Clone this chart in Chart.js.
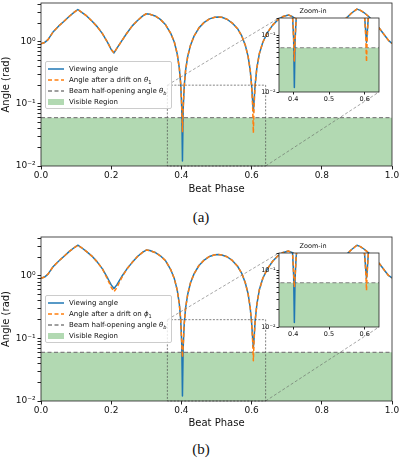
<!DOCTYPE html>
<html>
<head>
<meta charset="utf-8">
<script src="https://cdn.jsdelivr.net/npm/chart.js@4.4.1/dist/chart.umd.min.js"></script>
<style>
body{margin:0;background:#fff;font-family:"DejaVu Sans",sans-serif;}
#wrap{position:relative;width:400px;height:461px;overflow:hidden;background:#fff;}
canvas{position:absolute;}
.cap{position:absolute;left:1px;width:400px;text-align:center;font-family:"Liberation Serif",serif;font-size:15px;line-height:15px;color:#111;}
.leg{position:absolute;left:45px;width:125px;height:45px;border:1px solid #ccc;border-radius:2px;background:rgba(255,255,255,0.8);padding-top:1px;font-size:7px;color:#111;}
.leg .row{height:11px;display:flex;align-items:center;white-space:nowrap;}
.leg svg{margin-left:2px;margin-right:5px;flex:none;}
.leg sub{font-size:5px;vertical-align:-1.5px;line-height:0;}
</style>
</head>
<body>
<div id="wrap">
  <canvas id="mainA" width="400" height="196" style="left:0;top:0"></canvas>
  <canvas id="mainB" width="400" height="196" style="left:0;top:234px"></canvas>
  <div class="leg" id="legA" style="top:61px"></div>
  <div class="leg" id="legB" style="top:295px"></div>
  <canvas id="insetA" width="137" height="104" style="left:247px;top:4px"></canvas>
  <canvas id="insetB" width="137" height="104" style="left:247px;top:239px"></canvas>
  <div class="cap" style="top:210px">(a)</div>
  <div class="cap" style="top:442px">(b)</div>
</div>
<script>
// beat phase samples (shared by both panels)
const phase = [0.000,0.010,0.020,0.035,0.050,0.065,0.080,0.095,0.105,0.115,
  0.130,0.145,0.160,0.175,0.190,0.200,0.208,0.216,0.230,0.245,
  0.260,0.275,0.290,0.300,0.310,0.325,0.340,0.355,0.370,0.380,
  0.388,0.394,0.398,0.401,0.403,0.405,0.408,0.412,0.418,0.426,
  0.436,0.450,0.465,0.480,0.495,0.505,0.515,0.530,0.545,0.560,
  0.572,0.582,0.590,0.596,0.600,0.603,0.605,0.607,0.610,0.615,
  0.622,0.632,0.645,0.660,0.675,0.690,0.705,0.715,0.730,0.745,
  0.760,0.775,0.790,0.800,0.810,0.825,0.840,0.855,0.870,0.885,
  0.900,0.910,0.920,0.935,0.950,0.965,0.980,0.990,1.000];

// panel (a)
const viewA = [0.93,0.97,1.08,1.45,1.78,2.12,2.55,3.00,3.30,3.00,
  2.60,2.15,1.75,1.35,0.97,0.75,0.66,0.78,1.03,1.38,
  1.80,2.20,2.60,2.82,2.76,2.60,2.29,1.87,1.35,0.98,
  0.64,0.38,0.21,0.085,0.012,0.08,0.19,0.35,0.58,0.88,
  1.23,1.67,2.05,2.33,2.47,2.50,2.47,2.30,2.00,1.62,
  1.24,0.88,0.58,0.35,0.20,0.11,0.075,0.11,0.20,0.38,
  0.64,0.98,1.40,1.85,2.25,2.55,2.70,2.55,2.25,1.85,
  1.45,1.08,0.80,0.68,0.76,1.05,1.45,1.90,2.40,2.90,
  3.35,3.20,2.95,2.50,2.05,1.62,1.25,1.05,0.94];
const driftA = [0.93,0.97,1.08,1.45,1.78,2.12,2.55,3.00,3.30,3.00,
  2.60,2.15,1.75,1.35,0.97,0.75,0.66,0.78,1.03,1.38,
  1.80,2.20,2.60,2.82,2.76,2.60,2.29,1.87,1.35,0.98,
  0.64,0.38,0.21,0.09,0.035,0.085,0.19,0.35,0.58,0.88,
  1.23,1.67,2.05,2.33,2.47,2.50,2.47,2.30,2.00,1.62,
  1.24,0.88,0.58,0.35,0.19,0.09,0.034,0.09,0.20,0.38,
  0.64,0.98,1.40,1.85,2.25,2.55,2.70,2.55,2.25,1.85,
  1.45,1.08,0.80,0.68,0.76,1.05,1.45,1.90,2.40,2.90,
  3.35,3.20,2.95,2.50,2.05,1.62,1.25,1.05,0.94];

// panel (b)
const viewB = [0.92,0.96,1.07,1.42,1.72,2.05,2.45,2.85,3.10,2.85,
  2.45,2.08,1.68,1.30,0.92,0.72,0.63,0.72,0.98,1.30,
  1.65,2.05,2.40,2.60,2.55,2.38,2.10,1.75,1.25,0.90,
  0.60,0.36,0.20,0.08,0.012,0.07,0.17,0.31,0.51,0.78,
  1.08,1.47,1.80,2.05,2.18,2.20,2.17,2.03,1.77,1.43,
  1.10,0.78,0.52,0.31,0.18,0.10,0.072,0.10,0.19,0.35,
  0.60,0.92,1.30,1.72,2.10,2.38,2.50,2.38,2.10,1.72,
  1.36,1.02,0.76,0.65,0.71,1.00,1.38,1.80,2.20,2.65,
  3.10,2.95,2.70,2.30,1.92,1.55,1.20,1.02,0.93];
const driftB = [0.92,0.96,1.07,1.42,1.72,2.05,2.45,2.85,3.10,2.85,
  2.45,2.08,1.68,1.30,0.88,0.66,0.56,0.65,0.94,1.30,
  1.65,2.05,2.40,2.60,2.55,2.38,2.10,1.75,1.25,0.90,
  0.60,0.36,0.20,0.085,0.05,0.075,0.17,0.31,0.51,0.78,
  1.08,1.47,1.80,2.05,2.18,2.20,2.17,2.03,1.77,1.43,
  1.10,0.78,0.52,0.31,0.18,0.09,0.044,0.09,0.19,0.35,
  0.60,0.92,1.30,1.72,2.10,2.38,2.50,2.38,2.10,1.72,
  1.36,1.02,0.76,0.65,0.71,1.00,1.38,1.80,2.20,2.65,
  3.10,2.95,2.70,2.30,1.92,1.55,1.20,1.02,0.93];

const beamAngle = 0.06;
const xRange = [0, 1];
const yRange = [0.01, 4.2];
const xTicks = [0, 0.2, 0.4, 0.6, 0.8, 1.0];
const zoomX = [0.36, 0.64];
const zoomY = [0.01, 0.2];
const zoomTicks = [0.4, 0.5, 0.6];

const BLUE = '#1f77b4', ORANGE = '#ff7f0e', GRAY = '#808080', GREEN = 'rgba(0,128,0,0.3)';
Chart.defaults.font.family = "'DejaVu Sans', sans-serif";
Chart.defaults.color = '#111';

const sup = {'-':'\u207b','0':'\u2070','1':'\u00b9','2':'\u00b2','3':'\u00b3'};
function decadeLabel(v){
  const e = Math.log10(v);
  if (Math.abs(e - Math.round(e)) > 1e-6) return '';
  return '10' + String(Math.round(e)).split('').map(c => sup[c]).join('');
}
function logTicks(min, max){
  const t = [];
  for (let e = -3; e <= 1; e++)
    for (let m = 1; m <= 9; m++){
      const v = m * Math.pow(10, e);
      if (v >= min * 0.999 && v <= max * 1.001) t.push({value: v});
    }
  return t;
}

function datasets(view, drift){
  const pts = arr => phase.map((p, i) => ({x: p, y: arr[i]}));
  const flat = [{x: xRange[0], y: beamAngle}, {x: xRange[1], y: beamAngle}];
  return [
    {label: 'Angle after a drift', data: pts(drift), borderColor: ORANGE, borderDash: [4, 2.5],
     borderWidth: 1.5, borderJoinStyle: 'round', pointRadius: 0, order: 1},
    {label: 'Viewing angle', data: pts(view), borderColor: BLUE, borderWidth: 1.5,
     borderJoinStyle: 'round', pointRadius: 0, order: 2},
    {label: 'Beam half-opening angle', data: flat, borderColor: GRAY, borderDash: [4, 2.5],
     borderWidth: 1.2, pointRadius: 0, order: 3},
    {label: 'Visible Region', data: flat, borderColor: 'rgba(0,0,0,0)', backgroundColor: GREEN,
     fill: 'start', pointRadius: 0, order: 4}
  ];
}

// axes frame, optional white face (inset)
const frame = {
  id: 'frame',
  beforeDraw(c, a, o){
    if (!o.fill) return;
    const {left, top, width, height} = c.chartArea;
    c.ctx.save(); c.ctx.fillStyle = o.fill; c.ctx.fillRect(left, top, width, height); c.ctx.restore();
  },
  afterDraw(c){
    const {left, top, width, height} = c.chartArea, ctx = c.ctx;
    ctx.save(); ctx.strokeStyle = '#222'; ctx.lineWidth = 0.8;
    ctx.strokeRect(left, top, width, height); ctx.restore();
  }
};

// zoom rectangle + connector lines to the inset
const zoomBox = {
  id: 'zoomBox',
  afterDatasetsDraw(c, a, o){
    const x = c.scales.x, y = c.scales.y, ctx = c.ctx;
    const l = x.getPixelForValue(zoomX[0]), r = x.getPixelForValue(zoomX[1]);
    const t = y.getPixelForValue(zoomY[1]), b = y.getPixelForValue(zoomY[0]);
    ctx.save();
    ctx.strokeStyle = 'rgba(70,70,70,0.75)'; ctx.lineWidth = 0.9; ctx.setLineDash([2, 1.5]);
    ctx.strokeRect(l, t, r - l, b - t);
    const ins = Chart.getChart(o.inset);
    if (ins){
      const dx = ins.canvas.offsetLeft - c.canvas.offsetLeft, dy = ins.canvas.offsetTop - c.canvas.offsetTop;
      const ia = ins.chartArea;
      ctx.strokeStyle = 'rgba(90,90,90,0.6)'; ctx.setLineDash([3, 2]);
      ctx.beginPath();
      ctx.moveTo(l, t); ctx.lineTo(ia.left + dx, ia.top + dy);
      ctx.moveTo(r, b); ctx.lineTo(ia.right + dx, ia.bottom + dy);
      ctx.stroke();
    }
    ctx.restore();
  }
};

function makeInset(id, view, drift){
  return new Chart(document.getElementById(id), {
    type: 'line',
    data: {datasets: datasets(view, drift)},
    plugins: [frame],
    options: {
      responsive: false, animation: false, events: [],
      layout: {padding: {top: 3.2, right: 5, left: 0, bottom: 0}},
      plugins: {legend: {display: false}, tooltip: {enabled: false}, frame: {fill: '#fff'},
        title: {display: true, text: 'Zoom-in', font: {size: 6.5, weight: 'normal'}, color: '#111', padding: {top: 0, bottom: 3}}},
      scales: {
        x: {type: 'linear', min: zoomX[0], max: zoomX[1],
          afterBuildTicks: s => { s.ticks = zoomTicks.map(v => ({value: v})); },
          ticks: {callback: v => v.toFixed(1), font: {size: 6.5}, padding: 1, maxRotation: 0, autoSkip: false},
          grid: {drawOnChartArea: false, tickLength: 2.5, color: '#222'}, border: {display: false},
          afterFit: s => { s.height = 16; s.paddingLeft = s.paddingRight = 0; }},
        y: {type: 'logarithmic', min: zoomY[0], max: zoomY[1],
          afterBuildTicks: s => { s.ticks = logTicks(zoomY[0], zoomY[1]); },
          ticks: {callback: v => decadeLabel(v), font: {size: 6.5}, padding: 1, autoSkip: false},
          grid: {drawOnChartArea: false, tickLength: 2.5, color: '#222'}, border: {display: false},
          afterFit: s => { s.width = 32; s.paddingTop = s.paddingBottom = 0; }}
      }
    }
  });
}

function makeMain(id, view, drift, insetId, xAxisHeight){
  return new Chart(document.getElementById(id), {
    type: 'line',
    data: {datasets: datasets(view, drift)},
    plugins: [frame, zoomBox],
    options: {
      responsive: false, animation: false, events: [],
      layout: {padding: {top: 3, right: 8, left: 0, bottom: 0}},
      plugins: {legend: {display: false}, tooltip: {enabled: false}, zoomBox: {inset: insetId}},
      scales: {
        x: {type: 'linear', min: xRange[0], max: xRange[1],
          afterBuildTicks: s => { s.ticks = xTicks.map(v => ({value: v})); },
          ticks: {callback: v => v.toFixed(1), font: {size: 9}, padding: 1, maxRotation: 0, autoSkip: false},
          grid: {drawOnChartArea: false, tickLength: 3.5, color: '#222'}, border: {display: false},
          title: {display: true, text: 'Beat Phase', font: {size: 10}, padding: {top: 0, bottom: 1}},
          afterFit: s => { s.height = xAxisHeight; s.paddingLeft = s.paddingRight = 0; }},
        y: {type: 'logarithmic', min: yRange[0], max: yRange[1],
          afterBuildTicks: s => { s.ticks = logTicks(yRange[0], yRange[1]); },
          ticks: {callback: v => decadeLabel(v), font: {size: 9}, padding: 2, autoSkip: false},
          grid: {drawOnChartArea: false, tickLength: 3.5, color: '#222'}, border: {display: false},
          title: {display: true, text: 'Angle (rad)', font: {size: 10}, padding: 0},
          afterFit: s => { s.width = 41; s.paddingTop = s.paddingBottom = 0; }}
      }
    }
  });
}

function legend(id, driftSym){
  const rows = [
    {kind: 'line', color: BLUE, dash: '', text: 'Viewing angle'},
    {kind: 'line', color: ORANGE, dash: '4 2.5', text: 'Angle after a drift on <i>' + driftSym + '</i><sub>1</sub>'},
    {kind: 'line', color: GRAY, dash: '4 2.5', text: 'Beam half-opening angle <i>\u03b8</i><sub><i>b</i></sub>'},
    {kind: 'box', color: GREEN, text: 'Visible Region'}
  ];
  document.getElementById(id).innerHTML = rows.map(r => {
    const sw = r.kind === 'line'
      ? `<line x1="0" y1="4" x2="16" y2="4" stroke="${r.color}" stroke-width="1.5" stroke-dasharray="${r.dash}"/>`
      : `<rect x="0" y="1" width="16" height="6" fill="${r.color}"/>`;
    return `<div class="row"><svg width="16" height="8">${sw}</svg><span>${r.text}</span></div>`;
  }).join('');
}

makeInset('insetA', viewA, driftA);
makeInset('insetB', viewB, driftB);
makeMain('mainA', viewA, driftA, 'insetA', 30);
makeMain('mainB', viewB, driftB, 'insetB', 29);
legend('legA', '\u03b8');
legend('legB', '\u03d5');
</script>
</body>
</html>
